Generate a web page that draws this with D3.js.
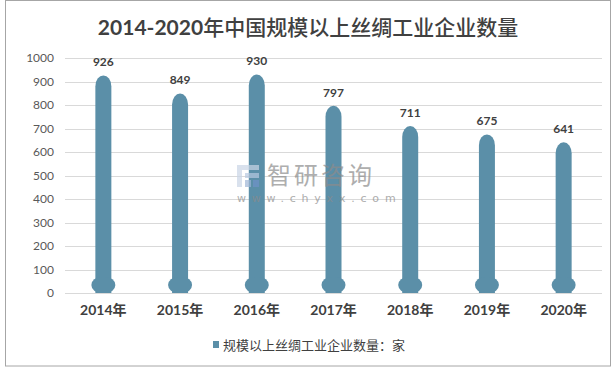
<!DOCTYPE html>
<html><head><meta charset="utf-8">
<script src="https://cdn.jsdelivr.net/npm/d3@7"></script>
<style>
html,body{margin:0;padding:0;background:#fff;}
svg{display:block;}
</style></head>
<body>
<svg id="chart" width="615" height="369"></svg>
<script>
const categories = ["2014年","2015年","2016年","2017年","2018年","2019年","2020年"];
const values = [926, 849, 930, 797, 711, 675, 641];
const yTicks = [0,100,200,300,400,500,600,700,800,900,1000];
const titleYears = "2014-2020";
const titleRest = "年中国规模以上丝绸工业企业数量";
const legendLabel = "规模以上丝绸工业企业数量：家";
const bulbValue = 68;

const barColor = "#5b8fa8";
const svg = d3.select("#chart");

svg.append("rect").attr("x",5.5).attr("y",0.5).attr("width",605).attr("height",365.5)
  .attr("fill","#fff").attr("stroke","#a6a6a6").attr("stroke-width",1);

const x = d3.scaleBand().domain(categories).range([65, 602]).padding(0);
const y = d3.scaleLinear().domain([0, 1000]).range([293, 58]);

const t = svg.append("text").attr("x", 308).attr("y", 35).attr("text-anchor","middle")
  .attr("font-size",21).attr("fill","#404040");
t.append("tspan").attr("font-family","Lato, sans-serif").attr("font-weight",700).text(titleYears);
t.append("tspan").attr("font-family","'Noto Sans CJK SC', sans-serif").attr("font-weight",500).text(titleRest);

// gridlines
svg.append("g").selectAll("line").data(yTicks).join("line")
  .attr("x1",65).attr("x2",602)
  .attr("y1",d=>Math.round(y(d))+0.5).attr("y2",d=>Math.round(y(d))+0.5)
  .attr("stroke","#d9d9d9").attr("stroke-width",1);

// y axis
const yAxis = d3.axisLeft(y).tickValues(yTicks).tickFormat(d3.format("d")).tickSize(0).tickPadding(11);
const gy = svg.append("g").attr("transform","translate(65,0)").call(yAxis);
gy.select(".domain").remove();
gy.selectAll("text").attr("font-family","Lato, 'Noto Sans CJK SC', sans-serif")
  .attr("font-size",12).attr("fill","#595959");

// x axis
const xAxis = d3.axisBottom(x).tickSize(0).tickPadding(12);
const gx = svg.append("g").attr("transform","translate(0,293)").call(xAxis);
gx.select(".domain").remove();
gx.selectAll("text").attr("font-family","Lato, 'Noto Sans CJK SC', sans-serif")
  .attr("font-size",14).attr("font-weight",700).attr("fill","#404040");

const r = 8;
const bars = svg.append("g");
bars.selectAll("path.stem").data(values).join("path").attr("class","stem")
  .attr("fill", barColor)
  .attr("d",(d,i)=>{
    const cx = x(categories[i]) + x.bandwidth()/2;
    const yt = y(d), y0 = y(0);
    return `M${cx-r},${y0} L${cx-r},${yt+11} A${r},11 0 0 1 ${cx+r},${yt+11} L${cx+r},${y0} Z`;
  });
bars.selectAll("rect.bulb").data(values).join("rect").attr("class","bulb")
  .attr("fill", barColor)
  .attr("x",(d,i)=>x(categories[i]) + x.bandwidth()/2 - 12)
  .attr("y", y(bulbValue))
  .attr("width",24).attr("height", y(0) - y(bulbValue))
  .attr("rx",10).attr("ry",8);

// data labels
svg.append("g").selectAll("text").data(values).join("text")
  .attr("x",(d,i)=>x(categories[i]) + x.bandwidth()/2)
  .attr("y",d=>y(d)-9)
  .attr("text-anchor","middle")
  .attr("font-family","Lato, 'Noto Sans CJK SC', sans-serif")
  .attr("font-size",12).attr("font-weight",700).attr("fill","#404040")
  .text(d=>d);

// watermark
const wm = svg.append("g").attr("opacity",0.7);
const lg = wm.append("g").attr("transform","translate(237,165)");
lg.append("rect").attr("x",0).attr("y",0).attr("width",22).attr("height",5).attr("fill","#c9d5e6");
lg.append("rect").attr("x",0).attr("y",0).attr("width",5).attr("height",22).attr("fill","#c9d5e6");
lg.append("rect").attr("x",8).attr("y",8).attr("width",14).attr("height",5).attr("fill","#b7c8e0");
lg.append("rect").attr("x",8).attr("y",15).attr("width",6).attr("height",7).attr("fill","#9fb6d6");
lg.append("rect").attr("x",16).attr("y",15).attr("width",6).attr("height",7).attr("fill","#6f93c8");
wm.append("text").attr("x",267).attr("y",184).attr("font-family","'Noto Sans CJK SC', sans-serif")
  .attr("font-size",24).attr("fill","#8c8c8c").attr("letter-spacing",3).text("智研咨询");
wm.append("text").attr("x",237).attr("y",202).attr("font-family","'DejaVu Sans', sans-serif")
  .attr("font-size",11).attr("fill","#8c8c8c").attr("letter-spacing",5.8).text("www.chyxx.com");

// legend
svg.append("rect").attr("x",213).attr("y",341).attr("width",6).attr("height",7).attr("fill",barColor);
svg.append("text").attr("x",223).attr("y",350).attr("font-family","'Noto Sans CJK SC', sans-serif")
  .attr("font-size",13).attr("fill","#404040").text(legendLabel);
</script>
</body></html>
